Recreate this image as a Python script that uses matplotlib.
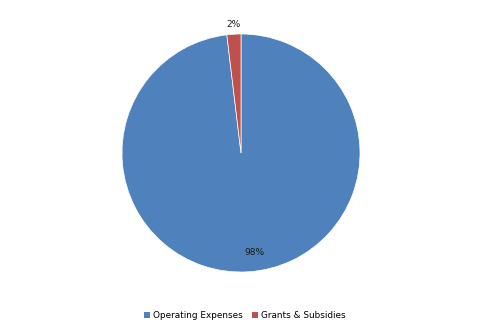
import matplotlib
matplotlib.use("Agg")
import matplotlib.pyplot as plt
from matplotlib.patches import Patch
import numpy as np

categories = ["Operating Expenses", "Grants & Subsidies"]
values = [98.1, 1.9]
labels_pct = ["98%", "2%"]
colors = ["#4F81BD", "#C0504D"]

fig = plt.figure(figsize=(4.82, 3.35), dpi=100)
ax = fig.add_axes([(241 - 119) / 482, (335 - 272) / 335, 238 / 482, 238 / 335])
wedges, _ = ax.pie(values, colors=colors, startangle=90, counterclock=False,
                   wedgeprops=dict(linewidth=0.5, edgecolor="white"))
ax.set_xlim(-1, 1)
ax.set_ylim(-1, 1)
ax.set_aspect("equal")
ax.axis("off")

for w, v, lab in zip(wedges, values, labels_pct):
    if v > 50:
        mid = np.deg2rad((w.theta1 + w.theta2) / 2 + 4.5)
        r = 0.84
    else:
        mid = np.deg2rad((w.theta1 + w.theta2) / 2)
        r = 1.08
    ax.text(r * np.cos(mid), r * np.sin(mid), lab, ha="center", va="center",
            fontsize=6.5, color="#1a1a1a")

handles = [Patch(facecolor=c, edgecolor="none") for c in colors]
fig.legend(handles, categories, loc="center", bbox_to_anchor=(0.508, 0.058),
           ncol=2, frameon=False, fontsize=6.4, handlelength=0.65, handleheight=0.65,
           columnspacing=1.1, handletextpad=0.35)

fig.savefig("out.png", dpi=100)
